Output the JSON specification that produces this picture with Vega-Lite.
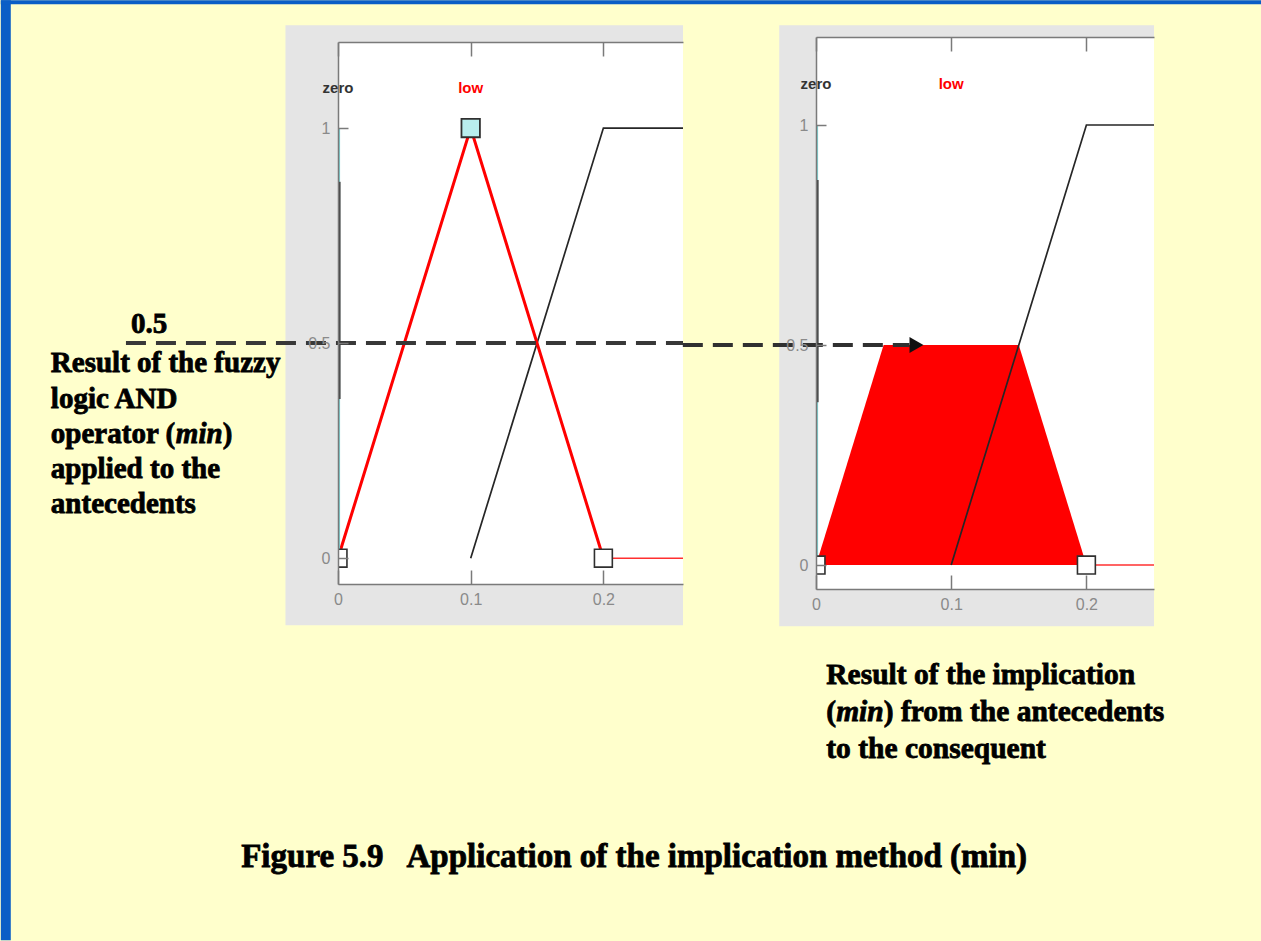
{
  "$schema": "https://vega.github.io/schema/vega-lite/v6.json",
  "background": "#FFFFCC",
  "padding": 0,
  "bounds": "flush",
  "center": true,
  "spacing": 133,
  "config": {
    "view": {"stroke": null},
    "axis": {
      "grid": false,
      "domainColor": "#7a7a7a",
      "domainWidth": 1.5,
      "tickColor": "#7a7a7a",
      "tickWidth": 1.5,
      "labelColor": "#8a8a8a",
      "labelFont": "Liberation Sans",
      "labelFontSize": 16,
      "labelFlush": false
    },
    "axisX": {"tickSize": -14, "labelPadding": 21},
    "axisY": {"tickSize": -10, "labelPadding": 18}
  },
  "datasets": {
    "low": [{"x": 0, "y": 0}, {"x": 0.1, "y": 1}, {"x": 0.2, "y": 0}],
    "lowTail": [{"x": 0.2, "y": 0}, {"x": 0.27, "y": 0}],
    "next": [{"x": 0.1, "y": 0}, {"x": 0.2, "y": 1}, {"x": 0.27, "y": 1}],
    "zeroSpike": [{"x": 0.001, "y": 0}, {"x": 0.001, "y": 1}],
    "zeroDark": [{"x": 0.001, "y": 0.37}, {"x": 0.001, "y": 0.875}],
    "handles": [{"x": 0, "y": 0}, {"x": 0.2, "y": 0}],
    "peak": [{"x": 0.1, "y": 1}],
    "clipped": [{"x": 0, "y": 0}, {"x": 0.05, "y": 0.5}, {"x": 0.15, "y": 0.5}, {"x": 0.2, "y": 0}],
    "names": [{"name": "zero", "x": 0}, {"name": "low", "x": 0.1}]
  },
  "hconcat": [
    {
      "width": 345,
      "height": 542,
      "view": {"fill": "#FFFFFF", "stroke": null},
      "resolve": {"axis": {"x": "independent", "y": "independent"}},
      "layer": [
        {
          "data": {"values": [{}]},
          "mark": {"type": "rect", "color": "#E5E5E5"},
          "encoding": {
            "x": {"datum": -0.0396, "type": "quantitative", "scale": {"domain": [0, 0.26], "nice": false, "zero": false}, "axis": null},
            "x2": {"datum": 0},
            "y": {"datum": -0.156, "type": "quantitative", "scale": {"domain": [-0.06, 1.2], "nice": false, "zero": false}, "axis": null},
            "y2": {"datum": 1.2387}
          }
        },
        {
          "data": {"values": [{}]},
          "mark": {"type": "rect", "color": "#E5E5E5"},
          "encoding": {
            "x": {"datum": 0, "type": "quantitative", "axis": null},
            "x2": {"datum": 0.26},
            "y": {"datum": 1.2, "type": "quantitative", "axis": null},
            "y2": {"datum": 1.2387}
          }
        },
        {
          "data": {"values": [{}]},
          "mark": {"type": "rect", "color": "#E5E5E5"},
          "encoding": {
            "x": {"datum": 0, "type": "quantitative", "axis": null},
            "x2": {"datum": 0.26},
            "y": {"datum": -0.156, "type": "quantitative", "axis": null},
            "y2": {"datum": -0.06}
          }
        },
        {
          "data": {"values": [{}]},
          "mark": {"type": "rect", "color": "#0A5EC6"},
          "encoding": {
            "x": {"datum": -0.2541, "type": "quantitative", "axis": null},
            "x2": {"datum": -0.2466},
            "y": {"datum": -0.8882, "type": "quantitative", "axis": null},
            "y2": {"datum": 1.2969}
          }
        },
        {
          "data": {"values": [{}]},
          "mark": {"type": "rect", "color": "#0A5EC6"},
          "encoding": {
            "x": {"datum": -0.2541, "type": "quantitative", "axis": null},
            "x2": {"datum": 0.6968},
            "y": {"datum": 1.2875, "type": "quantitative", "axis": null},
            "y2": {"datum": 1.2969}
          }
        },
        {
          "data": {"name": "next"},
          "mark": {"type": "line", "color": "#262626", "strokeWidth": 1.7, "clip": true},
          "encoding": {
            "x": {"field": "x", "type": "quantitative", "scale": {"domain": [0, 0.26], "nice": false, "zero": false}, "axis": {"values": [0, 0.1, 0.2], "format": "~g", "title": null, "zindex": 1}},
            "y": {"field": "y", "type": "quantitative", "scale": {"domain": [-0.06, 1.2], "nice": false, "zero": false}, "axis": {"orient": "left", "values": [0, 0.5, 1], "format": "~g", "title": null, "zindex": 1}}
          }
        },
        {
          "data": {"name": "lowTail"},
          "mark": {"type": "line", "color": "#FF3030", "strokeWidth": 1.5, "clip": true},
          "encoding": {
            "x": {"field": "x", "type": "quantitative", "axis": {"orient": "top", "labels": false, "values": [0, 0.1, 0.2], "title": null, "zindex": 1}},
            "y": {"field": "y", "type": "quantitative", "axis": null}
          }
        },
        {
          "data": {"name": "low"},
          "mark": {"type": "line", "color": "#FF0000", "strokeWidth": 3, "clip": true},
          "encoding": {
            "x": {"field": "x", "type": "quantitative", "axis": null},
            "y": {"field": "y", "type": "quantitative", "axis": null}
          }
        },
        {
          "data": {"name": "zeroSpike"},
          "mark": {"type": "line", "color": "#7FD6D6", "strokeWidth": 1.5, "clip": true},
          "encoding": {
            "x": {"field": "x", "type": "quantitative", "axis": null},
            "y": {"field": "y", "type": "quantitative", "axis": null}
          }
        },
        {
          "data": {"name": "zeroDark"},
          "mark": {"type": "line", "color": "#404040", "strokeWidth": 2.5, "clip": true},
          "encoding": {
            "x": {"field": "x", "type": "quantitative", "axis": null},
            "y": {"field": "y", "type": "quantitative", "axis": null}
          }
        },
        {
          "data": {"values": [{}]},
          "mark": {"type": "rule", "color": "#383838", "strokeWidth": 4, "strokeDash": [20, 10]},
          "encoding": {
            "x": {"datum": -0.1598, "type": "quantitative", "axis": null},
            "x2": {"datum": 0.26},
            "y": {"datum": 0.5, "type": "quantitative", "axis": null}
          }
        },
        {
          "data": {"name": "handles"},
          "mark": {"type": "point", "shape": "square", "size": 320, "filled": true, "fill": "#FFFFFF", "stroke": "#303030", "strokeWidth": 1.6, "opacity": 1, "clip": true},
          "encoding": {
            "x": {"field": "x", "type": "quantitative", "axis": null},
            "y": {"field": "y", "type": "quantitative", "axis": null}
          }
        },
        {
          "data": {"name": "peak"},
          "mark": {"type": "point", "shape": "square", "size": 340, "filled": true, "fill": "#B9EDED", "stroke": "#303030", "strokeWidth": 1.8, "opacity": 1, "clip": true},
          "encoding": {
            "x": {"field": "x", "type": "quantitative", "axis": null},
            "y": {"field": "y", "type": "quantitative", "axis": null}
          }
        },
        {
          "data": {"name": "names"},
          "mark": {"type": "text", "font": "Liberation Sans", "fontWeight": "bold", "fontSize": 15, "align": "center", "baseline": "middle"},
          "encoding": {
            "x": {"field": "x", "type": "quantitative", "axis": null},
            "y": {"datum": 1.093, "type": "quantitative", "axis": null},
            "text": {"field": "name"},
            "color": {"field": "name", "type": "nominal", "scale": {"domain": ["zero", "low"], "range": ["#333333", "#FF0000"]}, "legend": null}
          }
        },
        {
          "data": {"values": [{}]},
          "mark": {"type": "text", "font": "Liberation Serif", "fontWeight": "bold", "fontSize": 29, "align": "center", "baseline": "alphabetic", "color": "#000000", "stroke": "#000000", "strokeWidth": 0.8},
          "encoding": {
            "x": {"datum": -0.1424, "type": "quantitative", "axis": null},
            "y": {"datum": 0.5228, "type": "quantitative", "axis": null},
            "text": {"value": "0.5"}
          }
        },
        {
          "data": {"values": [{}]},
          "mark": {"type": "text", "font": "Liberation Serif", "fontWeight": "bold", "fontSize": 29, "align": "left", "baseline": "alphabetic", "lineHeight": 35.25, "color": "#000000", "stroke": "#000000", "strokeWidth": 0.8},
          "encoding": {
            "x": {"datum": -0.2164, "type": "quantitative", "axis": null},
            "y": {"datum": 0.4321, "type": "quantitative", "axis": null},
            "text": {"value": ["Result of the fuzzy", "logic AND"]}
          }
        },
        {
          "data": {"values": [{}]},
          "mark": {"type": "text", "font": "Liberation Serif", "fontWeight": "bold", "fontSize": 29, "align": "left", "baseline": "alphabetic", "color": "#000000", "stroke": "#000000", "strokeWidth": 0.8},
          "encoding": {
            "x": {"datum": -0.2164, "type": "quantitative", "axis": null},
            "y": {"datum": 0.2682, "type": "quantitative", "axis": null},
            "text": {"value": "operator ("}
          }
        },
        {
          "data": {"values": [{}]},
          "mark": {"type": "text", "font": "Liberation Serif", "fontWeight": "bold", "fontStyle": "italic", "fontSize": 29, "align": "left", "baseline": "alphabetic", "color": "#000000", "stroke": "#000000", "strokeWidth": 0.8},
          "encoding": {
            "x": {"datum": -0.1222, "type": "quantitative", "axis": null},
            "y": {"datum": 0.2682, "type": "quantitative", "axis": null},
            "text": {"value": "min"}
          }
        },
        {
          "data": {"values": [{}]},
          "mark": {"type": "text", "font": "Liberation Serif", "fontWeight": "bold", "fontSize": 29, "align": "left", "baseline": "alphabetic", "color": "#000000", "stroke": "#000000", "strokeWidth": 0.8},
          "encoding": {
            "x": {"datum": -0.0869, "type": "quantitative", "axis": null},
            "y": {"datum": 0.2682, "type": "quantitative", "axis": null},
            "text": {"value": ")"}
          }
        },
        {
          "data": {"values": [{}]},
          "mark": {"type": "text", "font": "Liberation Serif", "fontWeight": "bold", "fontSize": 29, "align": "left", "baseline": "alphabetic", "lineHeight": 35.25, "color": "#000000", "stroke": "#000000", "strokeWidth": 0.8},
          "encoding": {
            "x": {"datum": -0.2164, "type": "quantitative", "axis": null},
            "y": {"datum": 0.1863, "type": "quantitative", "axis": null},
            "text": {"value": ["applied to the", "antecedents"]}
          }
        },
        {
          "data": {"values": [{}]},
          "mark": {"type": "text", "font": "Liberation Serif", "fontWeight": "bold", "fontSize": 33, "align": "center", "baseline": "alphabetic", "color": "#000000", "stroke": "#000000", "strokeWidth": 0.8},
          "encoding": {
            "x": {"datum": 0.2232, "type": "quantitative", "axis": null},
            "y": {"datum": -0.7173, "type": "quantitative", "axis": null},
            "text": {"value": "Figure 5.9\u00a0\u00a0 Application of the implication method (min)"}
          }
        }
      ]
    },
    {
      "width": 338,
      "height": 552,
      "view": {"fill": "#FFFFFF", "stroke": null},
      "resolve": {"axis": {"x": "independent", "y": "independent"}},
      "layer": [
        {
          "data": {"values": [{}]},
          "mark": {"type": "rect", "color": "#E5E5E5"},
          "encoding": {
            "x": {"datum": -0.0272, "type": "quantitative", "scale": {"domain": [0, 0.25], "nice": false, "zero": false}, "axis": null},
            "x2": {"datum": 0},
            "y": {"datum": -0.1393, "type": "quantitative", "scale": {"domain": [-0.0545, 1.2], "nice": false, "zero": false}, "axis": null},
            "y2": {"datum": 1.2266}
          }
        },
        {
          "data": {"values": [{}]},
          "mark": {"type": "rect", "color": "#E5E5E5"},
          "encoding": {
            "x": {"datum": 0, "type": "quantitative", "axis": null},
            "x2": {"datum": 0.25},
            "y": {"datum": 1.2, "type": "quantitative", "axis": null},
            "y2": {"datum": 1.2266}
          }
        },
        {
          "data": {"values": [{}]},
          "mark": {"type": "rect", "color": "#E5E5E5"},
          "encoding": {
            "x": {"datum": 0, "type": "quantitative", "axis": null},
            "x2": {"datum": 0.25},
            "y": {"datum": -0.1393, "type": "quantitative", "axis": null},
            "y2": {"datum": -0.0545}
          }
        },
        {
          "data": {"name": "clipped"},
          "mark": {"type": "area", "color": "#FF0000", "opacity": 1, "clip": true},
          "encoding": {
            "x": {"field": "x", "type": "quantitative", "axis": null},
            "y": {"field": "y", "type": "quantitative", "axis": null},
            "y2": {"datum": 0}
          }
        },
        {
          "data": {"name": "next"},
          "mark": {"type": "line", "color": "#262626", "strokeWidth": 1.7, "clip": true},
          "encoding": {
            "x": {"field": "x", "type": "quantitative", "scale": {"domain": [0, 0.25], "nice": false, "zero": false}, "axis": {"values": [0, 0.1, 0.2], "format": "~g", "title": null, "zindex": 1}},
            "y": {"field": "y", "type": "quantitative", "scale": {"domain": [-0.0545, 1.2], "nice": false, "zero": false}, "axis": {"orient": "left", "values": [0, 0.5, 1], "format": "~g", "title": null, "zindex": 1}}
          }
        },
        {
          "data": {"name": "lowTail"},
          "mark": {"type": "line", "color": "#FF3030", "strokeWidth": 1.5, "clip": true},
          "encoding": {
            "x": {"field": "x", "type": "quantitative", "axis": {"orient": "top", "labels": false, "values": [0, 0.1, 0.2], "title": null, "zindex": 1}},
            "y": {"field": "y", "type": "quantitative", "axis": null}
          }
        },
        {
          "data": {"name": "zeroSpike"},
          "mark": {"type": "line", "color": "#7FD6D6", "strokeWidth": 1.5, "clip": true},
          "encoding": {
            "x": {"field": "x", "type": "quantitative", "axis": null},
            "y": {"field": "y", "type": "quantitative", "axis": null}
          }
        },
        {
          "data": {"name": "zeroDark"},
          "mark": {"type": "line", "color": "#404040", "strokeWidth": 2.5, "clip": true},
          "encoding": {
            "x": {"field": "x", "type": "quantitative", "axis": null},
            "y": {"field": "y", "type": "quantitative", "axis": null}
          }
        },
        {
          "data": {"values": [{}]},
          "mark": {"type": "rule", "color": "#303030", "strokeWidth": 4, "strokeDash": [20, 10]},
          "encoding": {
            "x": {"datum": -0.0985, "type": "quantitative", "axis": null},
            "x2": {"datum": 0.0691},
            "y": {"datum": 0.5, "type": "quantitative", "axis": null}
          }
        },
        {
          "data": {"values": [{}]},
          "mark": {"type": "point", "shape": "triangle-right", "size": 260, "filled": true, "color": "#111111", "opacity": 1},
          "encoding": {
            "x": {"datum": 0.0743, "type": "quantitative", "axis": null},
            "y": {"datum": 0.5, "type": "quantitative", "axis": null}
          }
        },
        {
          "data": {"name": "handles"},
          "mark": {"type": "point", "shape": "square", "size": 320, "filled": true, "fill": "#FFFFFF", "stroke": "#303030", "strokeWidth": 1.6, "opacity": 1, "clip": true},
          "encoding": {
            "x": {"field": "x", "type": "quantitative", "axis": null},
            "y": {"field": "y", "type": "quantitative", "axis": null}
          }
        },
        {
          "data": {"name": "names"},
          "mark": {"type": "text", "font": "Liberation Sans", "fontWeight": "bold", "fontSize": 15, "align": "center", "baseline": "middle"},
          "encoding": {
            "x": {"field": "x", "type": "quantitative", "axis": null},
            "y": {"datum": 1.093, "type": "quantitative", "axis": null},
            "text": {"field": "name"},
            "color": {"field": "name", "type": "nominal", "scale": {"domain": ["zero", "low"], "range": ["#333333", "#FF0000"]}, "legend": null}
          }
        },
        {
          "data": {"values": [{}]},
          "mark": {"type": "text", "font": "Liberation Serif", "fontWeight": "bold", "fontSize": 29.5, "align": "left", "baseline": "alphabetic", "color": "#000000", "stroke": "#000000", "strokeWidth": 0.8},
          "encoding": {
            "x": {"datum": 0.0076, "type": "quantitative", "axis": null},
            "y": {"datum": -0.2695, "type": "quantitative", "axis": null},
            "text": {"value": "Result of the implication"}
          }
        },
        {
          "data": {"values": [{}]},
          "mark": {"type": "text", "font": "Liberation Serif", "fontWeight": "bold", "fontSize": 29.5, "align": "left", "baseline": "alphabetic", "color": "#000000", "stroke": "#000000", "strokeWidth": 0.8},
          "encoding": {
            "x": {"datum": 0.0076, "type": "quantitative", "axis": null},
            "y": {"datum": -0.3541, "type": "quantitative", "axis": null},
            "text": {"value": "("}
          }
        },
        {
          "data": {"values": [{}]},
          "mark": {"type": "text", "font": "Liberation Serif", "fontWeight": "bold", "fontStyle": "italic", "fontSize": 29.5, "align": "left", "baseline": "alphabetic", "color": "#000000", "stroke": "#000000", "strokeWidth": 0.8},
          "encoding": {
            "x": {"datum": 0.0149, "type": "quantitative", "axis": null},
            "y": {"datum": -0.3541, "type": "quantitative", "axis": null},
            "text": {"value": "min"}
          }
        },
        {
          "data": {"values": [{}]},
          "mark": {"type": "text", "font": "Liberation Serif", "fontWeight": "bold", "fontSize": 29.5, "align": "left", "baseline": "alphabetic", "color": "#000000", "stroke": "#000000", "strokeWidth": 0.8},
          "encoding": {
            "x": {"datum": 0.0501, "type": "quantitative", "axis": null},
            "y": {"datum": -0.3541, "type": "quantitative", "axis": null},
            "text": {"value": ") from the antecedents"}
          }
        },
        {
          "data": {"values": [{}]},
          "mark": {"type": "text", "font": "Liberation Serif", "fontWeight": "bold", "fontSize": 29.5, "align": "left", "baseline": "alphabetic", "color": "#000000", "stroke": "#000000", "strokeWidth": 0.8},
          "encoding": {
            "x": {"datum": 0.0076, "type": "quantitative", "axis": null},
            "y": {"datum": -0.4382, "type": "quantitative", "axis": null},
            "text": {"value": "to the consequent"}
          }
        }
      ]
    }
  ]
}
